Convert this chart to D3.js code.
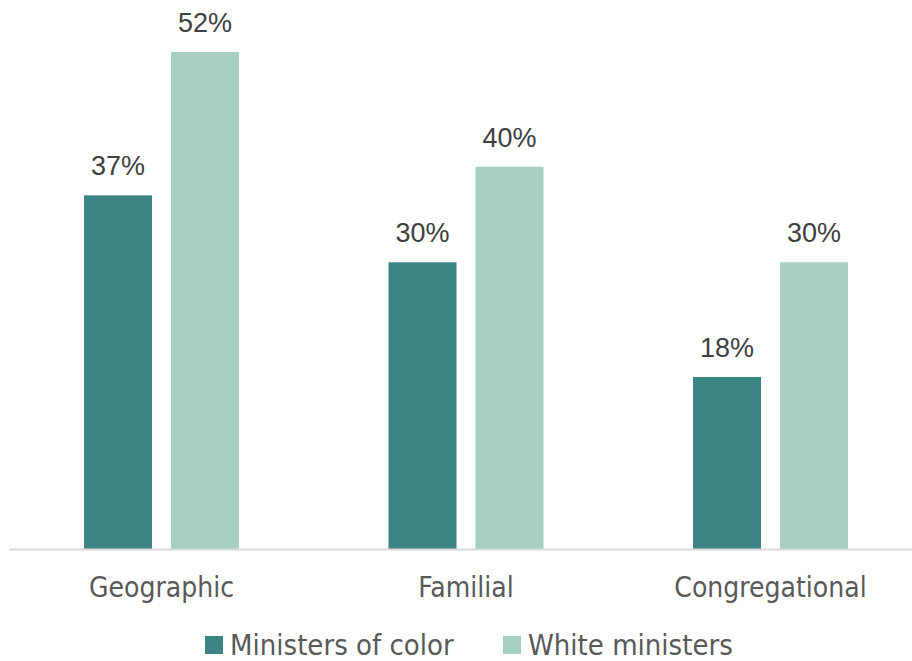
<!DOCTYPE html>
<html><head><meta charset="utf-8">
<script src="https://cdn.jsdelivr.net/npm/d3@7"></script>
<style>body{margin:0;background:#fff}</style>
</head><body>
<svg id="chart" width="912" height="661"></svg>
<script>
const categories = ["Geographic", "Familial", "Congregational"];
const seriesNames = ["Ministers of color", "White ministers"];
const ministersOfColor = [37, 30, 18];
const whiteMinisters = [52, 40, 30];
const colors = ["#3d8585", "#a6cfc4"];

const svg = d3.select("#chart");
const baseY = 549;
const y = d3.scaleLinear().domain([0, 52]).range([baseY, 52]);
const x0 = d3.scaleBand().domain(categories).range([9.25, 922.75]).paddingInner(0).paddingOuter(0);
const x1 = d3.scaleBand().domain(seriesNames).range([0, x0.bandwidth()]).paddingInner(0.218).paddingOuter(0.859);

const condensed = "'Liberation Sans Narrow','DejaVu Sans Condensed','Arial Narrow',sans-serif";
const series = [ministersOfColor, whiteMinisters];

categories.forEach((c, i) => {
  series.forEach((s, j) => {
    const bx = x0(c) + x1(seriesNames[j]);
    svg.append("rect").attr("x", bx).attr("y", y(s[i])).attr("width", x1.bandwidth())
      .attr("height", baseY - y(s[i])).attr("fill", colors[j]);
    svg.append("text").attr("x", bx + x1.bandwidth()/2).attr("y", y(s[i]) - 20)
      .attr("text-anchor", "middle").attr("font-family", "'Liberation Sans',Arial,sans-serif")
      .attr("font-size", 27).attr("fill", "#404040").text(s[i] + "%");
  });
});

svg.append("line").attr("x1", 9).attr("x2", 912).attr("y1", baseY + 0.5).attr("y2", baseY + 0.5)
  .attr("stroke", "#d9d9d9").attr("stroke-width", 2);

const xAxis = d3.axisBottom(x0).tickSize(0).tickPadding(0);
const gx = svg.append("g").attr("transform", `translate(0,${baseY})`).call(xAxis);
gx.select(".domain").remove();
gx.selectAll("text").attr("dy", null).attr("y", 48)
  .attr("font-family", condensed).attr("font-size", 28).attr("fill", "#595959");

const legend = svg.append("g");
const legX = [205, 503];
seriesNames.forEach((n, j) => {
  legend.append("rect").attr("x", legX[j]).attr("y", 636).attr("width", 18).attr("height", 18).attr("fill", colors[j]);
  legend.append("text").attr("x", legX[j] + 25).attr("y", 655).attr("font-family", condensed)
    .attr("font-size", 29).attr("fill", "#595959").text(n);
});
</script>
</body></html>
